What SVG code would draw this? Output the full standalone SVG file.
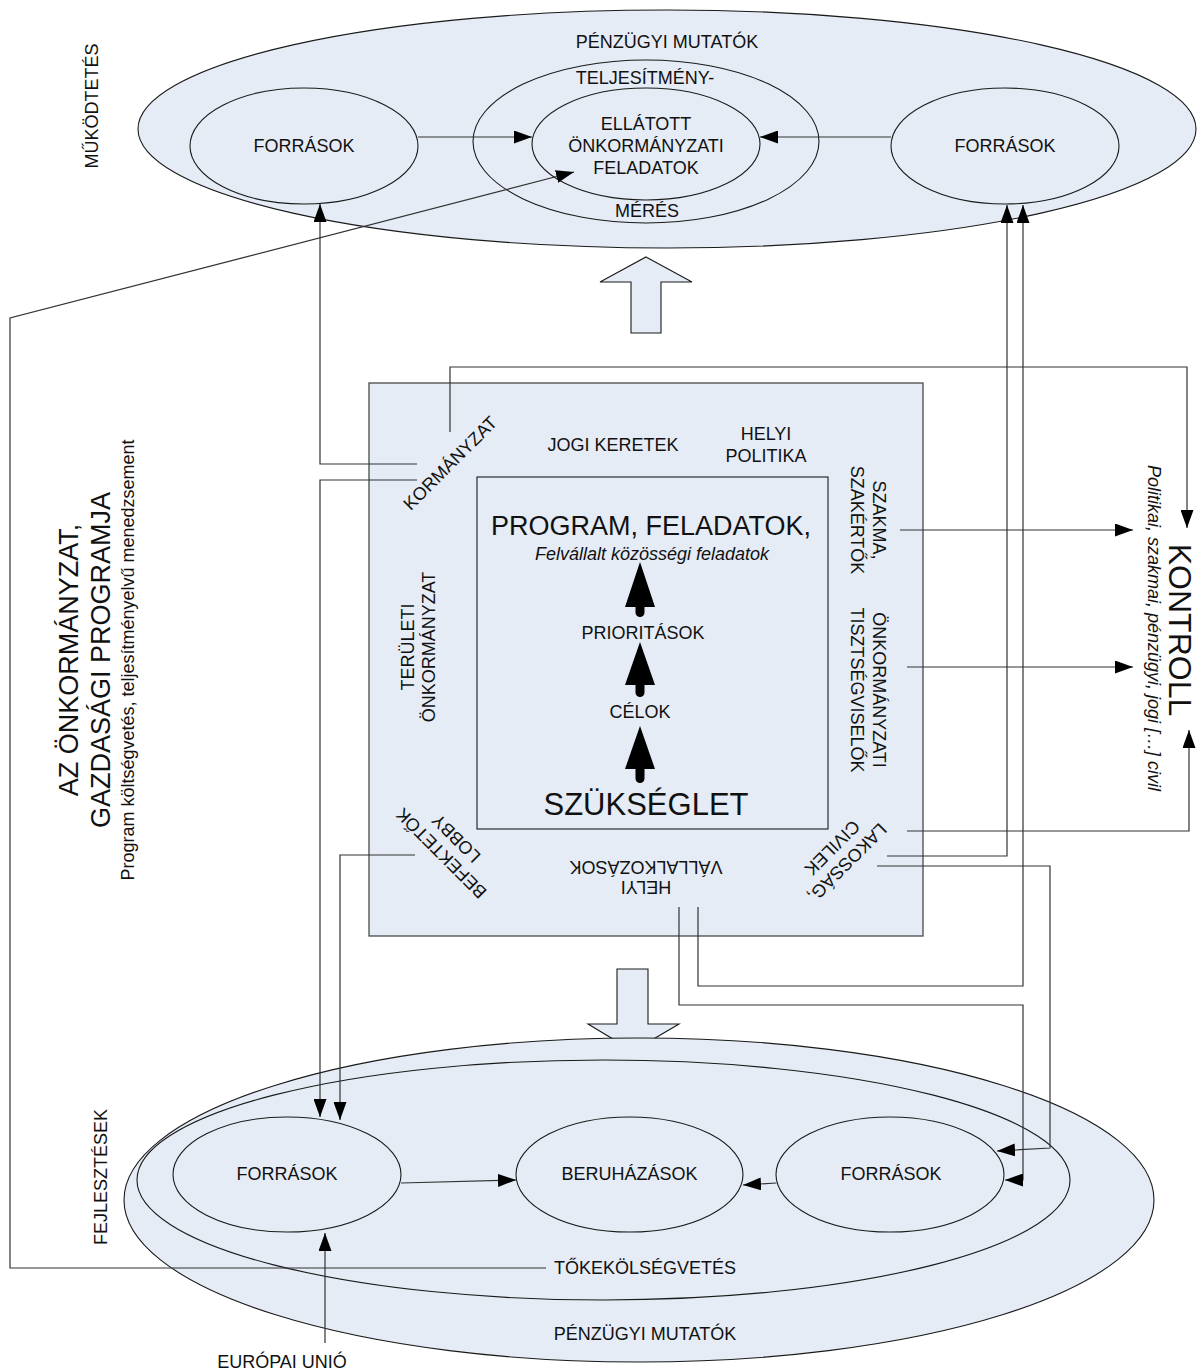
<svg xmlns="http://www.w3.org/2000/svg" width="1199" height="1372" viewBox="0 0 1199 1372">
<style>
.bg{fill:#ffffff}
.el{fill:#E5ECF6;stroke:#1a1a1a;stroke-width:1.1}
.box{fill:#E5ECF6;stroke:#4a4a4a;stroke-width:1.3}
.ibox{fill:#E5ECF6;stroke:#1a1a1a;stroke-width:1.1}
.blk{fill:#E5ECF6;stroke:#1a1a1a;stroke-width:1.1}
.t{font-family:"Liberation Sans",Arial,sans-serif;font-size:18px;fill:#111;text-anchor:middle}
.it{font-style:italic}
.c{fill:none;stroke:#333;stroke-width:1.2}
.ca{fill:none;stroke:#333;stroke-width:1.2;marker-end:url(#ah)}
.fat{fill:#000}
.fs{stroke:#000;stroke-width:9;stroke-linecap:round}
</style>
<defs>
<marker id="ah" markerUnits="userSpaceOnUse" markerWidth="19" markerHeight="13" refX="18" refY="6.5" orient="auto">
<path d="M0,0 L18,6.5 L0,13 z" fill="#000"/>
</marker>
</defs>
<rect class="bg" x="0" y="0" width="1199" height="1372"/>

<g id="top-operation">
<ellipse class="el" cx="667" cy="129" rx="529" ry="119"/>
<text class="t" x="667" y="48">PÉNZÜGYI MUTATÓK</text>
<ellipse class="el" cx="646" cy="141.5" rx="173" ry="81.5"/>
<text class="t" x="645" y="84">TELJESÍTMÉNY-</text>
<text class="t" x="647" y="217">MÉRÉS</text>
<text class="t" transform="translate(92,106) rotate(-90)" x="0" y="6.4">MŰKÖDTETÉS</text>
</g>
<g id="top-tasks">
<ellipse class="el" cx="646" cy="144" rx="114" ry="56"/>
<text class="t" x="646" y="130">ELLÁTOTT</text>
<text class="t" x="646" y="152">ÖNKORMÁNYZATI</text>
<text class="t" x="646" y="174">FELADATOK</text>
</g>
<g id="top-sources-left">
<ellipse class="el" cx="304" cy="146" rx="114" ry="58"/>
<text class="t" x="304" y="152">FORRÁSOK</text>
</g>
<g id="top-sources-right">
<ellipse class="el" cx="1005" cy="146" rx="114" ry="58"/>
<text class="t" x="1005" y="152">FORRÁSOK</text>
</g>
<g id="arrow-up">
<polygon class="blk" points="646,257 692,282 661,282 661,333 631,333 631,282 600,282"/>
</g>

<g id="center-box">
<rect class="box" x="369" y="383" width="554" height="553"/>
<text class="t" transform="translate(450,463) rotate(-45)" x="0" y="6.4">KORMÁNYZAT</text>
<text class="t" x="613" y="451">JOGI KERETEK</text>
<text class="t" x="766" y="440">HELYI</text>
<text class="t" x="766" y="462">POLITIKA</text>
<text class="t" transform="translate(417.5,647) rotate(-90)"><tspan x="0" y="-4">TERÜLETI</tspan><tspan x="0" y="17">ÖNKORMÁNYZAT</tspan></text>
<text class="t" transform="translate(868,520) rotate(90)"><tspan x="0" y="-4.6">SZAKMA,</tspan><tspan x="0" y="17.4">SZAKÉRTŐK</tspan></text>
<text class="t" transform="translate(868,690) rotate(90)"><tspan x="0" y="-4.6">ÖNKORMÁNYZATI</tspan><tspan x="0" y="17.4">TISZTSÉGVISELŐK</tspan></text>
<text class="t" transform="translate(840,855.5) rotate(135)"><tspan x="0" y="-4">LAKOSSÁG,</tspan><tspan x="0" y="17">CIVILEK</tspan></text>
<text class="t" transform="translate(646,877) rotate(180)"><tspan x="0" y="-3.6">HELYI</tspan><tspan x="0" y="16.4">VÁLLALKOZÁSOK</tspan></text>
<text class="t" transform="translate(448.5,846) rotate(-135)"><tspan x="0" y="-4">BEFEKTETŐK</tspan><tspan x="0" y="17">LOBBY</tspan></text>
</g>
<g id="program-box">
<rect class="ibox" x="477" y="477" width="351" height="352"/>
<text class="t" x="651" y="535" style="font-size:27px">PROGRAM, FELADATOK,</text>
<text class="t it" x="652" y="560">Felvállalt közösségi feladatok</text>
<text class="t" x="643" y="639">PRIORITÁSOK</text>
<text class="t" x="640" y="718">CÉLOK</text>
<text class="t" x="646" y="815" style="font-size:31px">SZÜKSÉGLET</text>
<line class="fs" x1="640" y1="604" x2="640" y2="612.5"/>
<polygon class="fat" points="640,562 655,607 625,607"/>
<line class="fs" x1="640" y1="682" x2="640" y2="692.5"/>
<polygon class="fat" points="640,642 655,685 625,685"/>
<line class="fs" x1="640" y1="766" x2="640" y2="778.5"/>
<polygon class="fat" points="640,726 655,769 625,769"/>
</g>

<g id="left-title">
<text class="t" transform="translate(98,660) rotate(-90)"><tspan x="0" y="-20.3" style="font-size:27px">AZ ÖNKORMÁNYZAT,</tspan><tspan x="0" y="11.7" style="font-size:27px">GAZDASÁGI PROGRAMJA</tspan><tspan x="0" y="36">Program költségvetés, teljesítményelvű menedzsement</tspan></text>
</g>
<g id="control">
<text class="t" transform="translate(1180,630) rotate(90)" x="0" y="11.5" style="font-size:32px">KONTROLL</text>
<text class="t it" transform="translate(1153,628) rotate(90)" x="0" y="5">Politikai, szakmai, pénzügyi, jogi […] civil</text>
</g>

<g id="arrow-down">
<polygon class="blk" points="617,969 648,969 648,1024 679,1024 633,1051 588,1024 617,1024"/>
</g>

<g id="bottom-development">
<ellipse class="el" cx="639" cy="1200" rx="515" ry="162"/>
<text class="t" x="645" y="1340">PÉNZÜGYI MUTATÓK</text>
<ellipse class="el" cx="603.5" cy="1180" rx="466.5" ry="120"/>
<text class="t" x="645" y="1274">TŐKEKÖLSÉGVETÉS</text>
<text class="t" transform="translate(101,1177) rotate(-90)" x="0" y="6.4">FEJLESZTÉSEK</text>
</g>
<g id="bottom-sources-left">
<ellipse class="el" cx="287" cy="1174.5" rx="114" ry="57.5"/>
<text class="t" x="287" y="1180">FORRÁSOK</text>
</g>
<g id="bottom-investments">
<ellipse class="el" cx="629.5" cy="1174.5" rx="113.5" ry="57.5"/>
<text class="t" x="629.5" y="1180">BERUHÁZÁSOK</text>
</g>
<g id="bottom-sources-right">
<ellipse class="el" cx="890" cy="1174.5" rx="114" ry="57.5"/>
<text class="t" x="891" y="1180">FORRÁSOK</text>
</g>
<g id="eu">
<text class="t" x="282" y="1368">EURÓPAI UNIÓ</text>
</g>

<g id="connectors">
<path class="ca" d="M418,137 L532,137"/>
<path class="ca" d="M891,137 L760,137"/>
<path class="ca" d="M417,464 L320,464 L320,204"/>
<path class="ca" d="M546,1268 L10,1268 L10,318 L574,172"/>
<path class="ca" d="M417,480 L320,480 L320,1117"/>
<path class="ca" d="M415,855 L340,855 L340,1120"/>
<path class="ca" d="M450,432 L450,367 L1187,367 L1187,528"/>
<path class="ca" d="M900,530 L1133,530"/>
<path class="ca" d="M907,667 L1133,667"/>
<path class="ca" d="M907,831 L1189,831 L1189,730"/>
<path class="ca" d="M887,856 L1007,856 L1007,205"/>
<path class="ca" d="M698,907 L698,986 L1023,986 L1023,205"/>
<path class="ca" d="M877,866 L1050,866 L1050,1148 L997,1151"/>
<path class="ca" d="M679,907 L679,1005 L1023,1005 L1023,1180 L1005,1180"/>
<path class="ca" d="M401,1183 L516,1180"/>
<path class="ca" d="M776.5,1183 L743,1185"/>
<path class="ca" d="M325,1343 L325,1233"/>
</g>
</svg>
